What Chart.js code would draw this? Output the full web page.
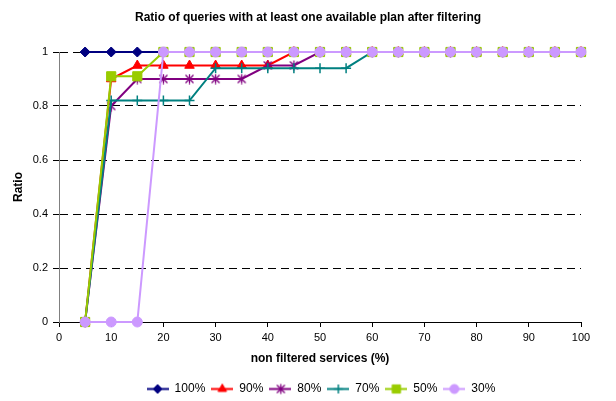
<!DOCTYPE html>
<html>
<head>
<meta charset="utf-8">
<script src="https://cdn.jsdelivr.net/npm/chart.js@4.4.1/dist/chart.umd.min.js"></script>
<style>
  html, body { margin: 0; padding: 0; background: #fff; }
  canvas { display: block; }
</style>
</head>
<body>
<canvas id="chart" width="616" height="401"></canvas>
<script>
// Share of non filtered services (%)
const services = [5, 10, 15, 20, 25, 30, 35, 40, 45, 50, 55, 60, 65, 70, 75, 80, 85, 90, 95, 100];

const seriesNames = ['100%', '90%', '80%', '70%', '50%', '30%'];

// Ratio of queries that still have an available plan, one array per series
const ratio100 = [1, 1, 1, 1, 1, 1, 1, 1, 1, 1, 1, 1, 1, 1, 1, 1, 1, 1, 1, 1];
const ratio90  = [0, 0.9, 0.95, 0.95, 0.95, 0.95, 0.95, 0.95, 1, 1, 1, 1, 1, 1, 1, 1, 1, 1, 1, 1];
const ratio80  = [0, 0.8, 0.9, 0.9, 0.9, 0.9, 0.9, 0.95, 0.95, 1, 1, 1, 1, 1, 1, 1, 1, 1, 1, 1];
const ratio70  = [0, 0.82, 0.82, 0.82, 0.82, 0.94, 0.94, 0.94, 0.94, 0.94, 0.94, 1, 1, 1, 1, 1, 1, 1, 1, 1];
const ratio50  = [0, 0.91, 0.91, 1, 1, 1, 1, 1, 1, 1, 1, 1, 1, 1, 1, 1, 1, 1, 1, 1];
const ratio30  = [0, 0, 0, 1, 1, 1, 1, 1, 1, 1, 1, 1, 1, 1, 1, 1, 1, 1, 1, 1];

const xTicks = [0, 10, 20, 30, 40, 50, 60, 70, 80, 90, 100];
const xTickLabels = ['0', '10', '20', '30', '40', '50', '60', '70', '80', '90', '100'];
const yTicks = [0, 0.2, 0.4, 0.6, 0.8, 1];
const yTickLabels = ['0', '0.2', '0.4', '0.6', '0.8', '1'];

const FONT = "'Liberation Sans', Arial, Helvetica, sans-serif";
Chart.defaults.font.family = FONT;
Chart.defaults.font.size = 11;
Chart.defaults.color = '#000';

// Asterisk marker: a cross with a vertical bar through it
function asteriskMarker(color) {
  const c = document.createElement('canvas');
  c.width = 11; c.height = 11;
  const g = c.getContext('2d');
  g.strokeStyle = color;
  g.lineWidth = 1.3;
  g.beginPath();
  g.moveTo(1.5, 1.5); g.lineTo(9.5, 9.5);
  g.moveTo(9.5, 1.5); g.lineTo(1.5, 9.5);
  g.moveTo(5.5, 0.5); g.lineTo(5.5, 10.5);
  g.stroke();
  return c;
}

const seriesStyles = [
  { color: '#000080', fill: '#000080', marker: 'rectRot',  radius: 5,   border: 1 },
  { color: '#FF0000', fill: '#FF0000', marker: 'triangle', radius: 5.5, border: 1 },
  { color: '#800080', fill: '#800080', marker: asteriskMarker('#800080'), radius: 5, border: 1 },
  { color: '#008080', fill: '#008080', marker: 'cross',    radius: 5,   border: 1.5 },
  { color: '#99CC00', fill: '#99CC00', marker: 'rect',     radius: 6.5, border: 1 },
  { color: '#CC99FF', fill: '#CC99FF', marker: 'circle',   radius: 5,   border: 1 }
];

const seriesValues = [ratio100, ratio90, ratio80, ratio70, ratio50, ratio30];

const datasets = seriesNames.map((name, i) => {
  const st = seriesStyles[i];
  return {
    label: name,
    data: services.map((x, k) => ({ x: x, y: seriesValues[i][k] })),
    borderColor: st.color,
    backgroundColor: st.fill,
    borderWidth: 2,
    pointStyle: st.marker,
    pointRadius: st.radius,
    pointHoverRadius: st.radius,
    pointBackgroundColor: st.fill,
    pointBorderColor: st.color,
    pointBorderWidth: st.border,
    tension: 0,
    fill: false,
    clip: false,
    // later series are painted over earlier ones
    order: seriesNames.length - i
  };
});

// Legend swatch: a short line with the series marker in its middle
function legendSwatch(st) {
  const w = 22, h = 13;
  const c = document.createElement('canvas');
  c.width = w; c.height = h;
  const g = c.getContext('2d');
  g.strokeStyle = st.color;
  g.lineWidth = 2;
  g.beginPath();
  g.moveTo(0, h / 2); g.lineTo(w, h / 2);
  g.stroke();
  if (typeof st.marker !== 'string') {
    g.drawImage(st.marker, Math.round(w / 2 - st.marker.width / 2), Math.round(h / 2 - st.marker.height / 2));
  } else if (Chart.helpers && Chart.helpers.drawPoint) {
    g.fillStyle = st.fill;
    g.strokeStyle = st.color;
    g.lineWidth = st.border;
    Chart.helpers.drawPoint(g, { pointStyle: st.marker, radius: st.radius * 0.9, borderWidth: st.border, rotation: 0 }, w / 2, h / 2);
  }
  return c;
}
const swatches = seriesStyles.map(legendSwatch);

// Nudge the legend row a little to the right of the canvas centre
const legendOffset = {
  id: 'legendOffset',
  afterLayout(chart) {
    if (chart.legend) {
      chart.legend.left += 13;
      chart.legend.right += 13;
    }
  }
};

new Chart(document.getElementById('chart'), {
  type: 'line',
  data: { datasets: datasets },
  plugins: [legendOffset],
  options: {
    responsive: false,
    animation: false,
    events: [],
    layout: { padding: { top: 0, left: 0, right: 0, bottom: -4 } },
    plugins: {
      tooltip: { enabled: false },
      title: {
        display: true,
        text: 'Ratio of queries with at least one available plan after filtering',
        color: '#000',
        font: { family: FONT, size: 12, weight: 'bold' },
        padding: { top: 10, bottom: 27.6 }
      },
      legend: {
        display: true,
        position: 'bottom',
        labels: {
          usePointStyle: true,
          pointStyleWidth: 22,
          padding: 6,
          color: '#000',
          font: { family: FONT, size: 12 },
          sort: (a, b) => a.datasetIndex - b.datasetIndex,
          generateLabels: (chart) => {
            const items = Chart.defaults.plugins.legend.labels.generateLabels(chart);
            items.forEach(it => { it.pointStyle = swatches[it.datasetIndex]; });
            return items;
          }
        }
      }
    },
    scales: {
      x: {
        type: 'linear',
        min: 0,
        max: 100,
        afterBuildTicks: (s) => { s.ticks = xTicks.map(v => ({ value: v })); },
        afterFit: (s) => { s.height = 55; },
        grid: { drawOnChartArea: false, drawTicks: true, tickLength: 5, color: '#000', tickColor: '#000' },
        border: { display: true, color: '#000', width: 1 },
        ticks: {
          color: '#000', padding: 4, maxRotation: 0, autoSkip: false,
          font: { family: FONT, size: 11 },
          callback: (v, i) => xTickLabels[i]
        },
        title: {
          display: true,
          text: 'non filtered services (%)',
          color: '#000',
          font: { family: FONT, size: 12, weight: 'bold' },
          padding: { top: 0, bottom: 10.8 }
        }
      },
      y: {
        type: 'linear',
        position: 'left',
        min: 0,
        max: 1,
        afterBuildTicks: (s) => { s.ticks = yTicks.map(v => ({ value: v })); },
        afterFit: (s) => { s.width = 59; },
        grid: {
          color: (ctx) => (ctx.tick && ctx.tick.value === 0) ? 'rgba(0,0,0,0)' : '#000',
          lineWidth: 1,
          tickLength: 6,
          tickColor: '#000',
          tickBorderDash: [0, 0]
        },
        border: { display: true, color: '#808080', width: 1, dash: [8, 5] },
        ticks: {
          color: '#000', padding: 5,
          font: { family: FONT, size: 11 },
          callback: (v, i) => yTickLabels[i]
        },
        title: {
          display: true,
          text: 'Ratio',
          color: '#000',
          font: { family: FONT, size: 12, weight: 'bold' },
          padding: { top: 11.3, bottom: 0 }
        }
      },
      // empty right-hand margin
      yRight: {
        type: 'linear',
        position: 'right',
        display: true,
        afterFit: (s) => { s.width = 35; },
        ticks: { display: false },
        grid: { display: false, drawTicks: false },
        border: { display: false },
        title: { display: false }
      }
    }
  }
});
</script>
</body>
</html>
